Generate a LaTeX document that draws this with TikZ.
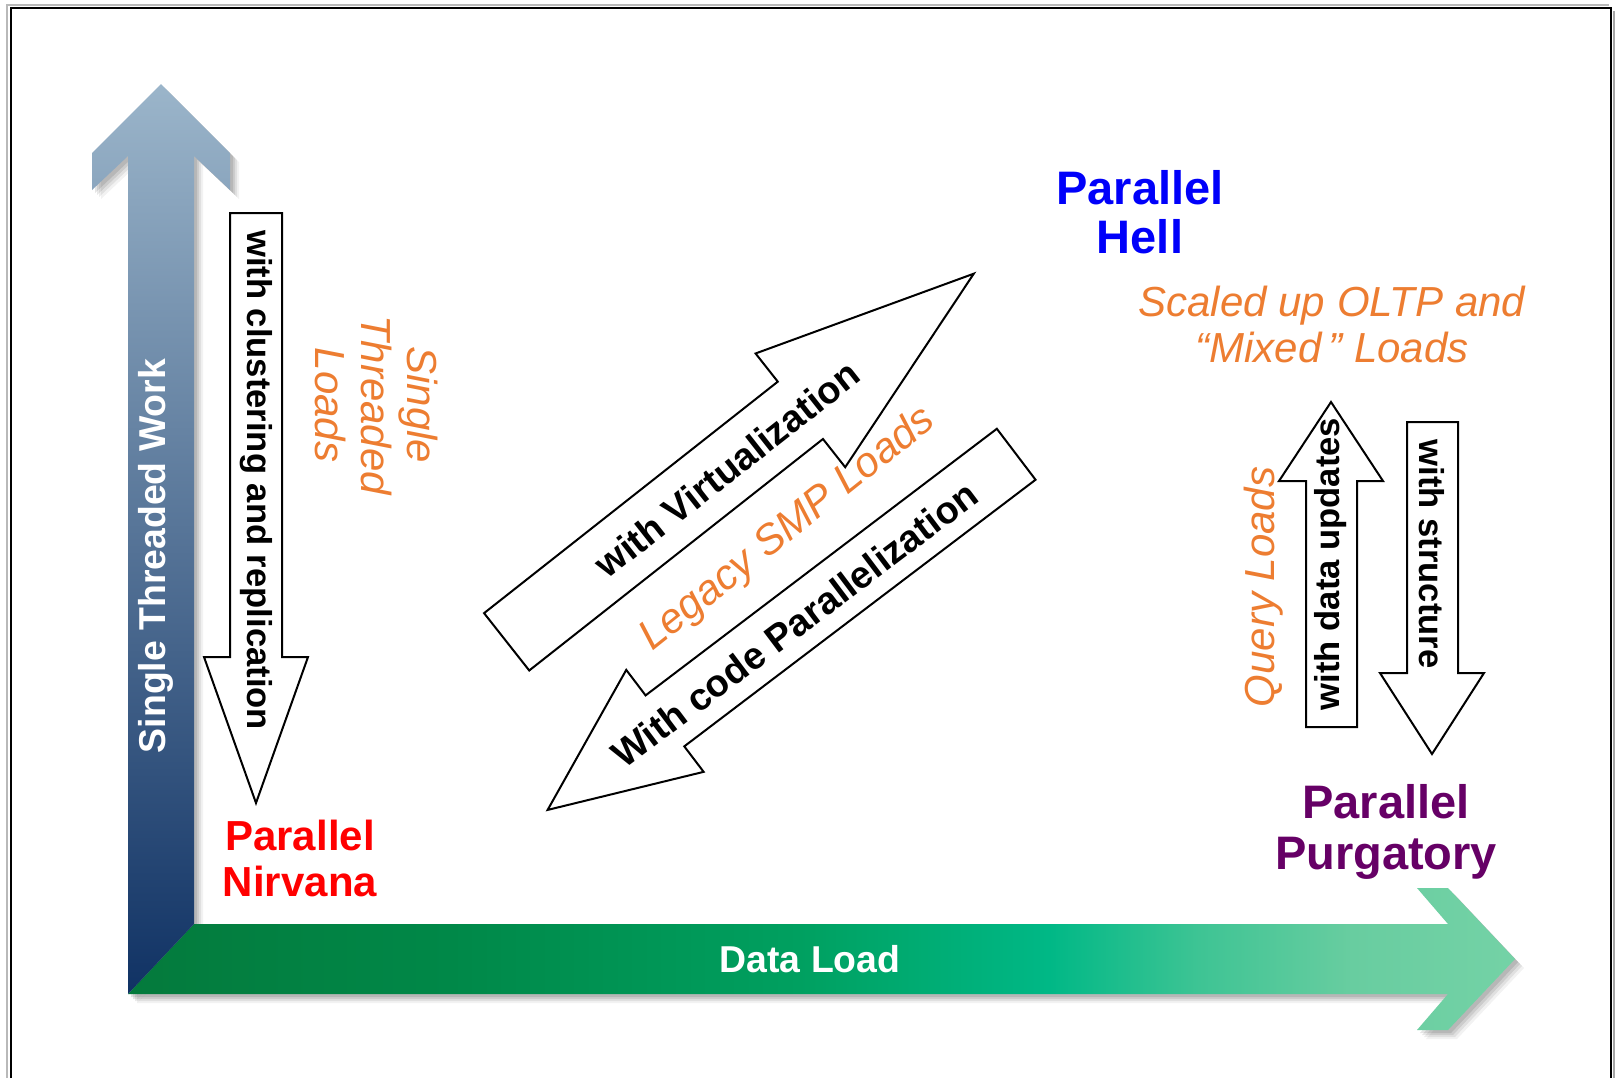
\documentclass[tikz,border=0pt]{standalone}
\usepackage{fontspec}
\setmainfont{Liberation Sans}
\usetikzlibrary{calc}

\definecolor{loadorange}{RGB}{237,125,49}
\definecolor{purgpurple}{RGB}{102,0,102}
\definecolor{hellblue}{RGB}{0,0,250}
\definecolor{worktop}{RGB}{155,181,202}
\definecolor{workbottom}{RGB}{16,50,100}
\definecolor{gA}{RGB}{4,122,60}
\definecolor{gB}{RGB}{0,136,72}
\definecolor{gC}{RGB}{0,160,96}
\definecolor{gD}{RGB}{0,184,134}
\definecolor{gE}{RGB}{62,196,148}
\definecolor{gF}{RGB}{104,205,160}
\definecolor{gG}{RGB}{116,210,166}

% colour run of the Data Load axis, left to right
\pgfdeclarehorizontalshading{dataload}{100bp}{color(0bp)=(gA); color(25bp)=(gA);
  color(36.6bp)=(gB); color(49.2bp)=(gC); color(58.2bp)=(gD); color(63.6bp)=(gE);
  color(69.1bp)=(gF); color(75bp)=(gG); color(100bp)=(gG)}

% outlines of the two axis arrows
\def\workpath{(161,84) -- (92,153) -- (92,190) -- (128,156) -- (128,994) -- (194,924)
  -- (194,156) -- (230,190) -- (230,153) -- cycle}
\def\loadpath{(128,994) -- (194,924) -- (1448,924) -- (1417,888) -- (1448,888)
  -- (1515,959) -- (1448,1030) -- (1417,1030) -- (1448,994) -- cycle}

\tikzset{
  outlinearrow/.style={draw=black, fill=white, line width=1pt, line join=miter},
  armtext/.style={font=\fontsize{17.3}{20}\selectfont\bfseries, text=black, inner sep=0pt},
  diagtext/.style={armtext, font=\fontsize{19}{21}\selectfont\bfseries},
  loadtext/.style={font=\fontsize{21}{23}\selectfont\itshape, text=loadorange,
    inner sep=0pt, align=center},
  axistext/.style={font=\fontsize{18.7}{21}\selectfont\bfseries, text=white, inner sep=0pt},
  regiontext/.style={inner sep=0pt, align=center},
  shadowlayer/.style={fill=black, opacity=#1},
}

\begin{document}
\begin{tikzpicture}[x=0.5pt, y=-0.5pt]
  \useasboundingbox (0,0) rectangle (1618,1078);
  \fill[white] (0,0) rectangle (1618,1078);

  % page frame, open at the bottom
  \draw[gray!55, line width=1.3pt] (7,1078) -- (7,5) -- (1609,5);
  \draw[gray!70, line width=1.2pt] (1614,11) -- (1614,1078);
  \draw[black, line width=1pt] (10.5,1078) -- (10.5,7.5) -- (1611,7.5) -- (1611,1078);

  % soft drop shadow under the axes
  \foreach \d/\o in {3/0.10,5/0.09,7/0.07,9/0.05} {
    \fill[shadowlayer=\o, shift={(\d,\d)}] \workpath;
    \fill[shadowlayer=\o, shift={(\d,\d)}] \loadpath;
  }

  % axes
  \shade[shading=dataload] \loadpath;
  \shade[top color=worktop, bottom color=workbottom] \workpath;

  % white outlined arrows
  \draw[outlinearrow] (230,213) -- (282,213) -- (282,657) -- (308,657) -- (256,803)
    -- (204,657) -- (230,657) -- cycle;
  \begin{scope}[shift={(506.65,641.8)}, rotate=38.24]
    \draw[outlinearrow] (0,-36.5) -- (374,-36.5) -- (374,-72.4) -- (594.8,0) -- (374,72.4)
      -- (374,36.5) -- (0,36.5) -- cycle;
  \end{scope}
  \begin{scope}[shift={(1016.2,454.25)}, rotate=217.2]
    \draw[outlinearrow] (0,-32) -- (441,-32) -- (441,-64) -- (588.3,0) -- (441,64)
      -- (441,32) -- (0,32) -- cycle;
  \end{scope}
  \draw[outlinearrow] (1306,727) -- (1306,481) -- (1279,481) -- (1331,402) -- (1383,481)
    -- (1357,481) -- (1357,727) -- cycle;
  \draw[outlinearrow] (1407,422) -- (1458,422) -- (1458,673) -- (1484,673) -- (1432,754)
    -- (1380,673) -- (1407,673) -- cycle;

  % axis labels
  \node[axistext, rotate=90] (work) at (156,556) {Single Threaded Work};
  \node[axistext] (dataload) at (810,959) {Data Load};

  % labels on the outlined arrows
  \node[armtext, rotate=-90] (cluster) at (256,480) {with clustering and replication};
  \node[diagtext, rotate=38.2] (virt) at (727,469) {with Virtualization};
  \node[diagtext, rotate=37] (codepar) at (794.6,624.3) {With code Parallelization};
  \node[armtext, rotate=90] (updates) at (1331,564) {with data updates};
  \node[armtext, rotate=-90] (structure) at (1432,554) {with structure};

  % workload labels
  \node[loadtext, rotate=-90] (stloads) at (376,405) {Single\\Threaded\\Loads};
  \node[loadtext, rotate=38.6] (smp) at (788,529.6) {Legacy SMP Loads};
  \node[loadtext] (oltp) at (1332,324.5) {Scaled up OLTP and\\“Mixed\,” Loads};
  \node[loadtext, rotate=90] (query) at (1264,587) {Query Loads};

  % region names
  \node[regiontext, text=red, font=\fontsize{21}{23}\selectfont\bfseries] (nirvana)
    at (300,858) {Parallel\\Nirvana};
  \node[regiontext, text=hellblue, font=\fontsize{23.5}{24.5}\selectfont\bfseries] (hell)
    at (1140,212.5) {Parallel\\Hell};
  \node[regiontext, text=purgpurple, font=\fontsize{23.5}{25.5}\selectfont\bfseries] (purg)
    at (1386,832) {Parallel\\Purgatory};
\end{tikzpicture}
\end{document}
